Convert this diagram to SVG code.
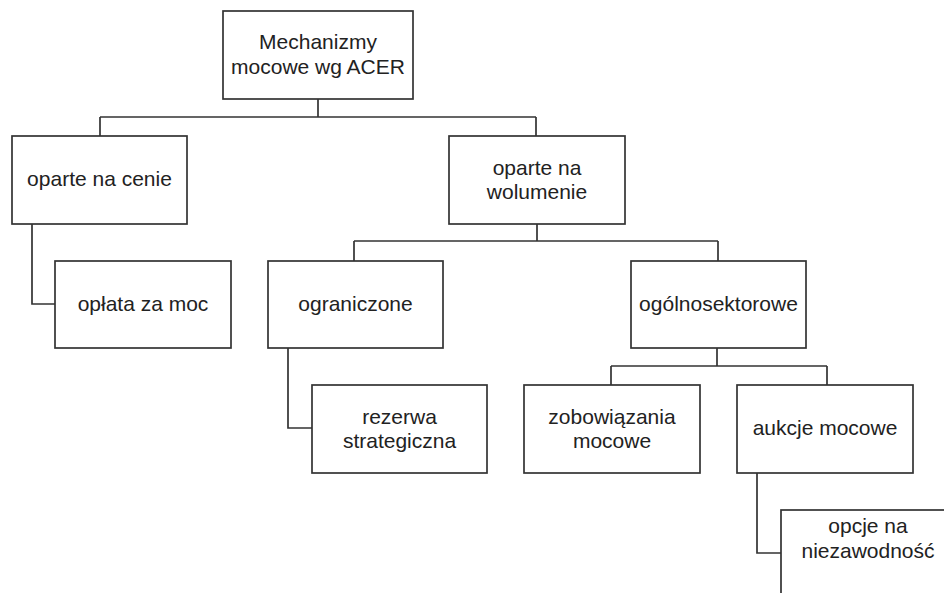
<svg xmlns="http://www.w3.org/2000/svg" width="944" height="593" viewBox="0 0 944 593">
<style>
.box{fill:#fff;stroke:#333;stroke-width:1.7}
.lbl{font-family:"Liberation Sans",Arial,sans-serif;font-size:21px;fill:#222;text-anchor:middle}
.con{fill:none;stroke:#333;stroke-width:1.7}
</style>
<rect width="944" height="593" fill="#fff"/>
<g id="connectors">
<path class="con" d="M318,99 V117 M100,117 H536 M100,117 V136 M536,117 V136"/>
<path class="con" d="M32,224 V304 H55"/>
<path class="con" d="M537,224 V241 M354,241 H718 M354,241 V261 M718,241 V261"/>
<path class="con" d="M288,348 V428 H312"/>
<path class="con" d="M717,348 V366 M611,366 H827 M611,366 V385 M827,366 V385"/>
<path class="con" d="M757,472 V553 H781"/>
</g>
<g id="root"><rect class="box" x="223" y="11" width="190" height="88"/><text class="lbl" x="318" y="48.5">Mechanizmy</text><text class="lbl" x="318" y="74">mocowe wg ACER</text></g>
<g id="cena"><rect class="box" x="12" y="136" width="175" height="88"/><text class="lbl" x="99.5" y="186">oparte na cenie</text></g>
<g id="wolumen"><rect class="box" x="449" y="136" width="176" height="88"/><text class="lbl" x="537" y="174.5">oparte na</text><text class="lbl" x="537" y="198.5">wolumenie</text></g>
<g id="oplata"><rect class="box" x="55" y="261" width="176" height="87"/><text class="lbl" x="143" y="311">opłata za moc</text></g>
<g id="ograniczone"><rect class="box" x="268" y="261" width="175" height="87"/><text class="lbl" x="355.5" y="311">ograniczone</text></g>
<g id="ogolnosektorowe"><rect class="box" x="631" y="261" width="175" height="87"/><text class="lbl" x="718.5" y="311">ogólnosektorowe</text></g>
<g id="rezerwa"><rect class="box" x="312" y="385" width="175" height="88"/><text class="lbl" x="399.5" y="423.5">rezerwa</text><text class="lbl" x="399.5" y="447.5">strategiczna</text></g>
<g id="zobowiazania"><rect class="box" x="524" y="385" width="176" height="88"/><text class="lbl" x="612" y="423.5">zobowiązania</text><text class="lbl" x="612" y="447.5">mocowe</text></g>
<g id="aukcje"><rect class="box" x="737" y="385" width="176" height="88"/><text class="lbl" x="825" y="435">aukcje mocowe</text></g>
<g id="opcje"><rect class="box" x="781" y="510" width="176" height="88"/><text class="lbl" x="868" y="533">opcje na</text><text class="lbl" x="868" y="558">niezawodność</text></g>
</svg>
